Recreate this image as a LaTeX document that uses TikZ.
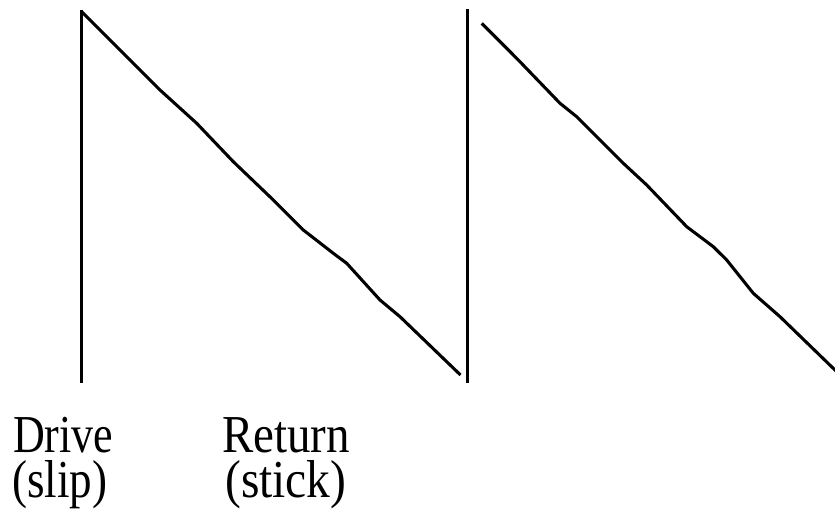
\documentclass[tikz,border=0pt]{standalone}
\usepackage{fontspec}
\setmainfont{Liberation Serif}
\begin{document}
\begin{tikzpicture}[x=0.75pt,y=-0.75pt,
  wave/.style={line width=2.3pt,line join=round,line cap=butt},
  label/.style={anchor=base west,inner sep=0pt,font=\fontsize{40}{40}\selectfont},
  topline/.style={label,text depth=0pt},
  lowline/.style={label,text height=28pt}]
\useasboundingbox (0,0) rectangle (835,509);
% first sawtooth
\draw[wave] (81.5,383) -- (81.5,10.5);
\draw[wave] (81.5,11.5) -- (131.7,61.7) -- (160,90) -- (196.7,123.3) -- (233.3,161.7)
  -- (273.3,200) -- (303.3,230) -- (333.3,253.3) -- (346.7,263.3) -- (380,300)
  -- (400,316.7) -- (460.5,375);
% second vertical
\draw[wave] (467.3,383) -- (467.3,9.5);
% second ramp
\draw[wave] (481.7,23.3) -- (491.7,33.3) -- (518.3,60) -- (560,103.3) -- (576.7,116.7)
  -- (623.3,163.3) -- (646.7,185) -- (686.7,226.7) -- (713.3,246.7) -- (726.7,260)
  -- (753.3,293.3) -- (780,316.7) -- (836,371);
% labels
\node[topline,xscale=0.825] (drive) at (13,452) {Drive};
\node[lowline,xscale=0.845] (slip) at (12,497) {(slip)};
\node[topline,xscale=0.88] (return) at (222,452) {Return};
\node[lowline,xscale=0.89] (stick) at (225,497) {(stick)};
\end{tikzpicture}
\end{document}
